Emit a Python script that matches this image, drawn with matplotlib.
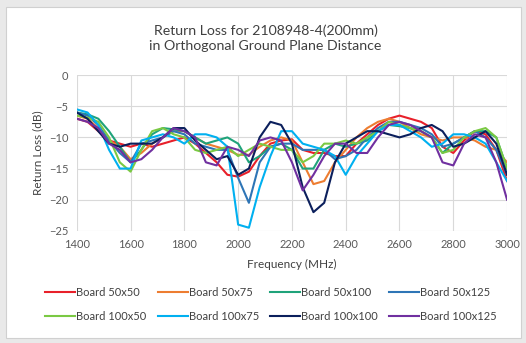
import matplotlib.pyplot as plt
import numpy as np

plt.rcParams['font.family'] = ['Lato', 'DejaVu Sans']

# Частоти (МГц), крок 40
freq = np.arange(1400, 3001, 40)

board_50x50 = [-7, -7.5, -9, -10.5, -11, -11.5, -11, -11.5, -11, -10.5, -10, -11, -12.5, -14, -16, -16.3,
               -15.5, -13, -11, -10.5, -10.3, -12, -12.5, -12.5, -13, -13, -11, -9.5, -8, -7, -6.5, -7,
               -7.5, -8.5, -11.5, -12.5, -10.5, -9, -9.5, -12, -17]
board_50x75 = [-6.5, -7, -8.5, -10.5, -11.5, -13.5, -12.5, -11, -10, -9, -9, -10, -11, -11.5, -12, -12.8,
               -12.8, -11.5, -10.5, -10, -10.5, -14, -17.5, -17, -14, -12, -10, -8.5, -7.5, -7, -7.5, -8.5,
               -9.5, -10, -10.5, -10, -10, -10.5, -11.5, -12, -14]
board_50x100 = [-6, -6.3, -7, -9, -11.5, -14, -12, -9.5, -8.5, -8.7, -9, -10, -11, -10.5, -10, -11,
                -14, -13, -11.5, -11, -12, -15, -15, -12, -11, -11.5, -11, -10.5, -9, -8, -8.2, -8.5,
                -9, -10, -12.5, -11, -10, -9, -9, -10, -15]
board_50x125 = [-6, -6.5, -8, -10.5, -12.5, -14, -11, -10.5, -10, -9, -9.5, -11, -11.5, -12, -12, -16.5,
                -20.5, -14, -11.5, -11, -11, -12, -12, -12, -13.5, -13, -12, -10, -8.5, -7.5, -7.5, -8,
                -8.5, -9.5, -11.5, -11, -10, -9, -10, -12, -16]
board_100x50 = [-6.5, -6.8, -7.5, -10, -14, -15.5, -12, -9, -8.5, -9.5, -10, -12, -12.5, -12, -11.5, -13,
                -12, -11, -11.5, -12, -12, -14, -13, -11, -11, -10.5, -11, -10, -9, -7.5, -8, -8.5,
                -9, -10, -12.5, -12, -10, -9, -8.5, -10, -15]
board_100x75 = [-5.5, -6, -8, -12, -15, -15, -10.5, -10, -9.5, -10, -11, -9.5, -9.5, -10, -11.5, -24,
                -24.5, -18, -13, -9, -9, -11, -11.5, -12, -13, -16, -13, -11, -9, -8, -8, -9,
                -10, -11.5, -11, -9.5, -9.5, -10, -11, -14, -17]
board_100x100 = [-6, -7, -9, -11, -11.5, -11, -11, -11, -10, -8.5, -8.5, -10.5, -12, -13.5, -13, -16,
                 -15, -10, -7.5, -8, -11, -18, -22, -20.5, -14, -11, -10, -9, -9, -9.5, -10, -9.5,
                 -8.5, -8, -9, -11.5, -11, -10, -9, -11, -16]
board_100x125 = [-7, -7.5, -8.5, -11, -12, -14, -13.5, -12, -10, -8.5, -9, -10, -14, -14.5, -11.5, -12,
                 -13, -10.5, -10, -10.5, -14, -18.5, -16, -13, -11, -11, -12.5, -12.5, -10, -8, -7.5, -8,
                 -9, -10, -14, -14.5, -11, -9.5, -10, -14, -20]

labels = ['Board 50x50', 'Board 50x75', 'Board 50x100', 'Board 50x125',
          'Board 100x50', 'Board 100x75', 'Board 100x100', 'Board 100x125']
series = [board_50x50, board_50x75, board_50x100, board_50x125,
          board_100x50, board_100x75, board_100x100, board_100x125]
colors = ['#E8202A', '#ED7D31', '#1FA37A', '#2E75B6',
          '#7AC943', '#00B0F0', '#0B1F5C', '#7030A0']

fig = plt.figure(figsize=(5.26, 3.43), dpi=100, facecolor='#E9E9E9')
# біла панель діаграми
panel = plt.Rectangle((0.012, 0.015), 0.978, 0.965, transform=fig.transFigure,
                      facecolor='white', edgecolor='#D0D0D0', lw=0.8, zorder=-10)
fig.add_artist(panel)

ax = fig.add_axes([0.146, 0.327, 0.818, 0.454])
ax.set_zorder(2)
ax.patch.set_alpha(0)
lines = []
for vals, lab, c in zip(series, labels, colors):
    ln, = ax.plot(freq, vals, color=c, lw=1.5, label=lab)
    lines.append(ln)

ax.set_xlim(1400, 3000)
ax.set_ylim(-25, 0)
ax.set_xticks(np.arange(1400, 3001, 200))
ax.set_yticks(np.arange(-25, 1, 5))
ax.grid(True, color='#D9D9D9', lw=0.8)
ax.set_axisbelow(True)
for s in ax.spines.values():
    s.set_visible(False)
ax.tick_params(length=0, labelsize=8, labelcolor='#595959', pad=6)

fig.text(0.505, 0.888, 'Return Loss for 2108948-4(200mm)\nin Orthogonal Ground Plane Distance',
         ha='center', va='center', fontsize=10.2, color='#404040', linespacing=1.35)
ax.set_xlabel('Frequency (MHz)', fontsize=8.5, color='#404040', labelpad=6)
ax.set_ylabel('Return Loss (dB)', fontsize=8.5, color='#404040', labelpad=4)

# легенда по рядках
order = [0, 4, 1, 5, 2, 6, 3, 7]
leg = fig.legend([lines[i] for i in order], [labels[i] for i in order],
                 loc='lower center', bbox_to_anchor=(0.515, 0.033), ncol=4, frameon=False,
                 fontsize=8, handlelength=2.7, handletextpad=0.1, columnspacing=1.0,
                 labelspacing=1.15, labelcolor='#404040')
leg.set_zorder(3)

fig.savefig('out.png', dpi=100, facecolor=fig.get_facecolor())
